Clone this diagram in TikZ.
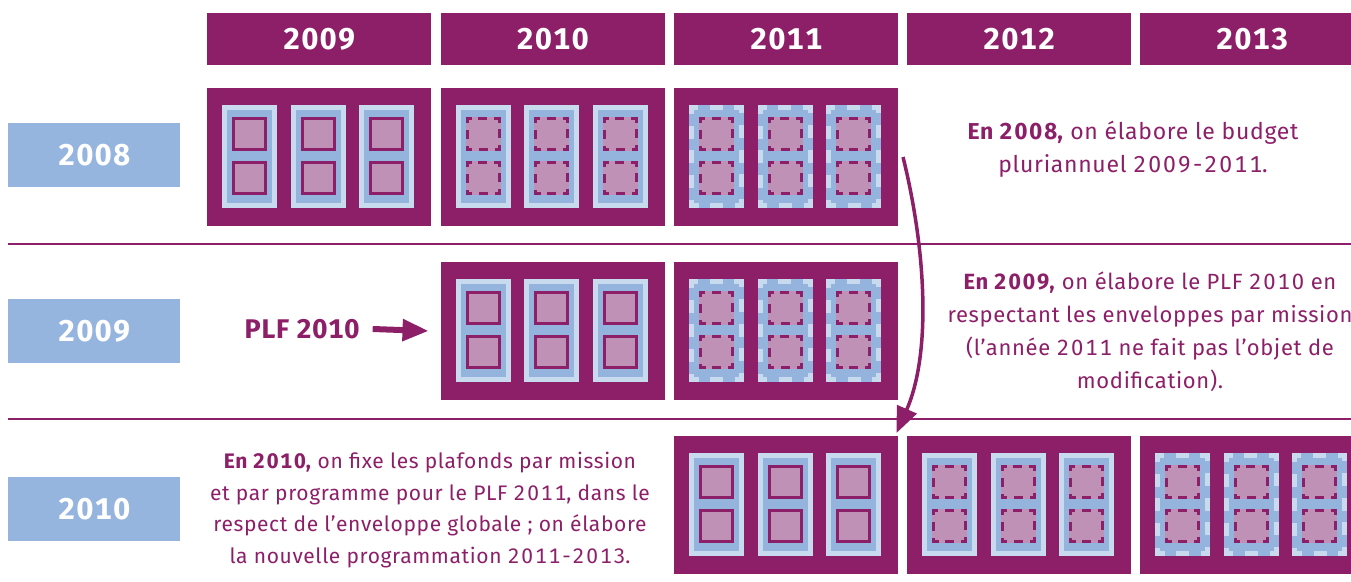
\documentclass[tikz,border=0pt]{standalone}
\usepackage{fontspec}
\setmainfont{Fira Sans}
\newfontfamily\notefont[Numbers=Monospaced, LetterSpace=3]{Fira Sans}
\newfontfamily\numfont[Numbers=Monospaced, LetterSpace=9]{Fira Sans}
\newfontfamily\yearfont[Numbers=Monospaced, LetterSpace=5]{Fira Sans}
\newcommand\nb[1]{{\numfont #1}}
\usetikzlibrary{arrows.meta}

\definecolor{prune}{RGB}{141,31,104}
\definecolor{ciel}{RGB}{150,181,222}
\definecolor{pilbord}{RGB}{200,218,238}
\definecolor{pilfond}{RGB}{148,179,221}
\definecolor{mauve}{RGB}{191,145,183}

\tikzset{
  blk/.style={fill=prune, minimum width=224pt, minimum height=138pt,
    anchor=north west, inner sep=0pt, outer sep=0pt},
  yearhead/.style={fill=prune, text=white, minimum width=224pt, minimum height=52pt,
    anchor=north west, inner sep=0pt, font=\yearfont\fontsize{30}{30}\selectfont\bfseries},
  yearlabel/.style={fill=ciel, text=white, minimum width=172pt, minimum height=64pt,
    anchor=north west, inner sep=0pt, font=\yearfont\fontsize{30}{30}\selectfont\bfseries},
  note/.style={text=prune, align=center, inner sep=0pt,
    font=\notefont\fontsize{22}{33}\selectfont},
  grandenote/.style={text=prune, align=center, inner sep=0pt,
    font=\notefont\fontsize{23}{33}\selectfont},
  petitenote/.style={text=prune, align=center, inner sep=0pt,
    font=\notefont\fontsize{21}{31.5}\selectfont},
  sep/.style={draw=prune, line width=2pt},
  fleche/.style={draw=prune, line width=3.5pt, -{Triangle[length=26pt,width=21pt]}},
  flechedroite/.style={draw=prune, line width=6pt, -{Triangle[length=26pt,width=21pt]}},
  % the three ways a block can be drawn
  plein/.style={
    pilcadre/.style={draw=pilbord, line width=5pt},
    carre/.style={draw=prune, line width=3pt}},
  tirets/.style={
    pilcadre/.style={draw=pilbord, line width=5pt},
    carre/.style={draw=prune, line width=3pt, line cap=rect,
      dash pattern=on 6pt off 9.75pt, dash phase=3pt}},
  toustirets/.style={
    pilcadre/.style={draw=pilbord, line width=5pt, line cap=rect,
      dash pattern=on 8pt off 16.667pt, dash phase=4pt},
    carre/.style={draw=prune, line width=3pt, line cap=rect,
      dash pattern=on 6pt off 9.75pt, dash phase=3pt}},
}

% one budget block: purple panel with three pillars of two squares each
\newcommand\budgetbloc[4]{%
  \node[blk] (#1) at (#2,#3) {};
  \begin{scope}[#4]
    \foreach \k in {0,1,2}{
      \pgfmathsetmacro\px{#2+15+68.6*\k}
      \pgfmathsetmacro\py{#3+17}
      \fill[pilfond] (\px,\py) rectangle ++(55,103);
      \draw[pilcadre] (\px+2.5,\py+2.5) rectangle ++(50,98);
      \foreach \dy in {12,56}{
        \fill[mauve] (\px+10,\py+\dy) rectangle ++(35,34);
        \draw[carre] (\px+11.5,\py+\dy+1.5) rectangle ++(32,31);
      }
    }
  \end{scope}}

\begin{document}
\begin{tikzpicture}[x=1pt,y=-1pt]
  \useasboundingbox (0,0) rectangle (1351,581);
  \clip (0,0) rectangle (1351,581);

  % year columns
  \node[yearhead] (h2009) at (207,13) {2009};
  \node[yearhead] (h2010) at (440.5,13) {2010};
  \node[yearhead] (h2011) at (674,13) {2011};
  \node[yearhead] (h2012) at (907,13) {2012};
  \node[yearhead] (h2013) at (1140,13) {2013};

  % year rows
  \node[yearlabel] (l2008) at (8,123) {2008};
  \node[yearlabel] (l2009) at (8,299) {2009};
  \node[yearlabel] (l2010) at (8,477) {2010};

  \draw[sep] (8,244) -- (1351,244);
  \draw[sep] (8,419) -- (1351,419);

  % blocks
  \budgetbloc{b11}{207}{88}{plein}
  \budgetbloc{b12}{440.5}{88}{tirets}
  \budgetbloc{b13}{674}{88}{toustirets}

  \budgetbloc{b22}{440.5}{262}{plein}
  \budgetbloc{b23}{674}{262}{toustirets}

  \budgetbloc{b33}{674}{436}{plein}
  \budgetbloc{b34}{907}{436}{tirets}
  \budgetbloc{b35}{1140}{436}{toustirets}

  % texts
  \node[grandenote] (n1) at (1133,149) {\textbf{En \nb{2008},} on élabore le budget\\pluriannuel \nb{2009-2011}.};
  \node[note] (n2) at (1150,332) {\textbf{En \nb{2009},} on élabore le PLF \nb{2010} en\\respectant les enveloppes par mission\\(l’année \nb{2011} ne fait pas l’objet de\\modification).};
  \node[petitenote] (n3) at (430,510) {\textbf{En \nb{2010},} on fixe les plafonds par mission\\et par programme pour le PLF \nb{2011}, dans le\\respect de l’enveloppe globale ; on élabore\\la nouvelle programmation \nb{2011-2013}.};

  \node[text=prune, inner sep=0pt, font=\notefont\fontsize{27}{27}\selectfont\bfseries] (plf) at (302,329) {PLF 2010};

  % arrows
  \draw[flechedroite] ([xshift=13pt]plf.east) -- ([xshift=-12pt]b22.west);
  \draw[fleche] ([xshift=5pt]b13.east) .. controls +(23,93) and +(35,-80) .. ([yshift=3pt,xshift=-1.5pt]b33.north east);
\end{tikzpicture}
\end{document}
